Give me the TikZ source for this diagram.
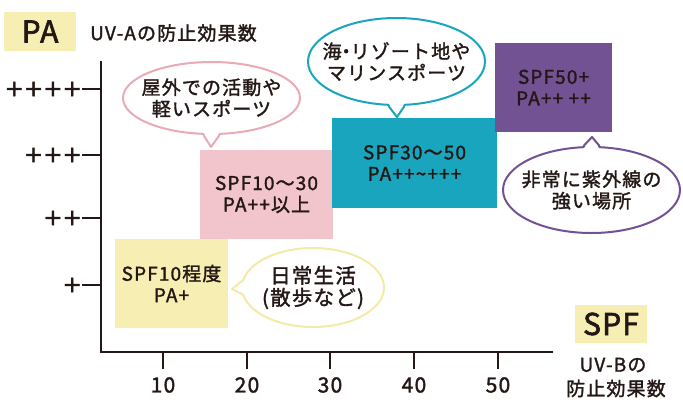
\documentclass[tikz,border=0pt]{standalone}
\usepackage{fontspec}
\setmainfont{Noto Sans CJK JP}[LetterSpace=6,FakeBold=1.6]
\newfontfamily\plusfont{DejaVu Sans}[FakeBold=1.6]
\newfontfamily\bigfont{Noto Sans CJK JP}[LetterSpace=4,FakeBold=2.2]
\usetikzlibrary{shapes.geometric}
\definecolor{ink}{HTML}{231815}
\definecolor{ylw}{HTML}{F7EEB3}
\definecolor{pnk}{HTML}{F2C4CC}
\definecolor{tealc}{HTML}{1AA5BE}
\definecolor{prp}{HTML}{735294}
\definecolor{pnkl}{HTML}{E9AAB6}
\definecolor{ylwl}{HTML}{F4EAA8}
\newcommand\txtm{\fontsize{19}{21.5}\selectfont}
\newcommand\txtl{\bigfont\fontsize{30}{32}\selectfont}
\newcommand\txtn{\fontsize{21}{23}\selectfont}
\begin{document}
\begin{tikzpicture}[x=1pt,y=-1pt,
  every node/.style={text=ink, inner sep=0pt, align=center},
  bub/.style={ellipse, fill=white, line width=2pt},
  btxt/.style={font=\txtm},
  axis/.style={ink, line width=2.4pt},
  tick/.style={ink, line width=2.4pt},
  ptr/.style={line width=2pt, line join=round}]
\useasboundingbox (0,0) rectangle (683,405);
% labels
\node[fill=ylw, minimum width=72, minimum height=39, font=\txtl] (pa) at (40,31.5) {PA};
\node[anchor=west, font=\txtm] (uva) at (90,33) {UV-Aの防止効果数};
\node[fill=ylw, minimum width=72, minimum height=38, font=\txtl] (spf) at (611,324) {SPF};
\node[font=\txtm] (uvb1) at (613,365) {UV-Bの};
\node[font=\txtm] (uvb2) at (616,388.5) {防止効果数};
% axes
\coordinate (o) at (101,352);
\coordinate (ytop) at (101,62);
\coordinate (xend) at (552,352);
\draw[axis, line cap=rect] (ytop) -- (o) -- (xend);
% y ticks
\foreach \yy/\lab/\nm in {89/++++/a,155/+++/b,218/++/c,285/+/d}{
  \coordinate (yt\nm) at (101,\yy);
  \coordinate (ys\nm) at (82,\yy);
  \draw[tick] (ys\nm) -- (yt\nm);
  \node[anchor=east, font=\plusfont\fontsize{23}{23}\selectfont] (yl\nm) at (82,\yy) {\lab};
}
% x ticks
\foreach \xx/\lab in {163/10,247/20,330/30,414/40,498/50}{
  \coordinate (xt\lab) at (\xx,352);
  \coordinate (xs\lab) at (\xx,369);
  \draw[tick] (xt\lab) -- (xs\lab);
  \node[font=\txtn] (xl\lab) at (\xx,385) {\lab};
}
% boxes
\node[fill=ylw, minimum width=113, minimum height=89, font=\txtm] (k1) at (171.5,283.5) {SPF10程度\\PA+};
\node[fill=pnk, minimum width=133, minimum height=89, font=\txtm] (k2) at (266.5,194.5) {SPF10〜30\\PA++以上};
\node[fill=tealc, minimum width=165, minimum height=90, font=\txtm] (k3) at (414.5,163) {SPF30〜50\\PA++\textasciitilde+++};
\node[fill=prp, minimum width=117, minimum height=89, font=\txtm] (k4) at (553.5,87.5) {SPF50+\\PA++ ++};
% bubbles
\node[bub, draw=pnkl, minimum width=177, minimum height=72] (b1) at (211.5,98) {};
\node[btxt] (t1) at (b1.center) {屋外での活動や\\軽いスポーツ};
\coordinate (tp1) at (211,147);
\fill[white] ([xshift=-8pt,yshift=3pt]b1.south) -- (tp1) -- ([xshift=8pt,yshift=3pt]b1.south) -- cycle;
\draw[pnkl, ptr] ([xshift=-8pt]b1.south) -- (tp1) -- ([xshift=8pt]b1.south);

\node[bub, draw=tealc, minimum width=177, minimum height=87] (b2) at (396.5,61.5) {};
\node[btxt] (t2) at (b2.center) {海\kern-5pt・\kern-5pt リゾート地や\\マリンスポーツ};
\coordinate (tp2) at (397,117);
\fill[white] ([xshift=-8pt,yshift=3pt]b2.south) -- (tp2) -- ([xshift=8pt,yshift=3pt]b2.south) -- cycle;
\draw[tealc, ptr] ([xshift=-8pt]b2.south) -- (tp2) -- ([xshift=8pt]b2.south);

\node[bub, draw=prp, minimum width=177, minimum height=86] (b3) at (591.5,190) {};
\node[btxt] (t3) at (b3.center) {非常に紫外線の\\強い場所};
\coordinate (tp3) at (592,137);
\fill[white] ([xshift=-8pt,yshift=-3pt]b3.north) -- (tp3) -- ([xshift=8pt,yshift=-3pt]b3.north) -- cycle;
\draw[prp, ptr] ([xshift=-8pt]b3.north) -- (tp3) -- ([xshift=8pt]b3.north);

\node[bub, draw=ylwl, minimum width=142, minimum height=79] (b4) at (313,287.5) {};
\node[btxt, font=\fontsize{20.5}{22}\selectfont] (t4) at (b4.center) {日常生活\\(散歩など)};
\coordinate (tp4) at (232,289);
\fill[white] ([xshift=4pt,yshift=-7pt]b4.west) -- (tp4) -- ([xshift=4pt,yshift=7pt]b4.west) -- cycle;
\draw[ylwl, ptr] ([xshift=1.5pt,yshift=-7pt]b4.west) -- (tp4) -- ([xshift=1.5pt,yshift=7pt]b4.west);
\end{tikzpicture}
\end{document}
